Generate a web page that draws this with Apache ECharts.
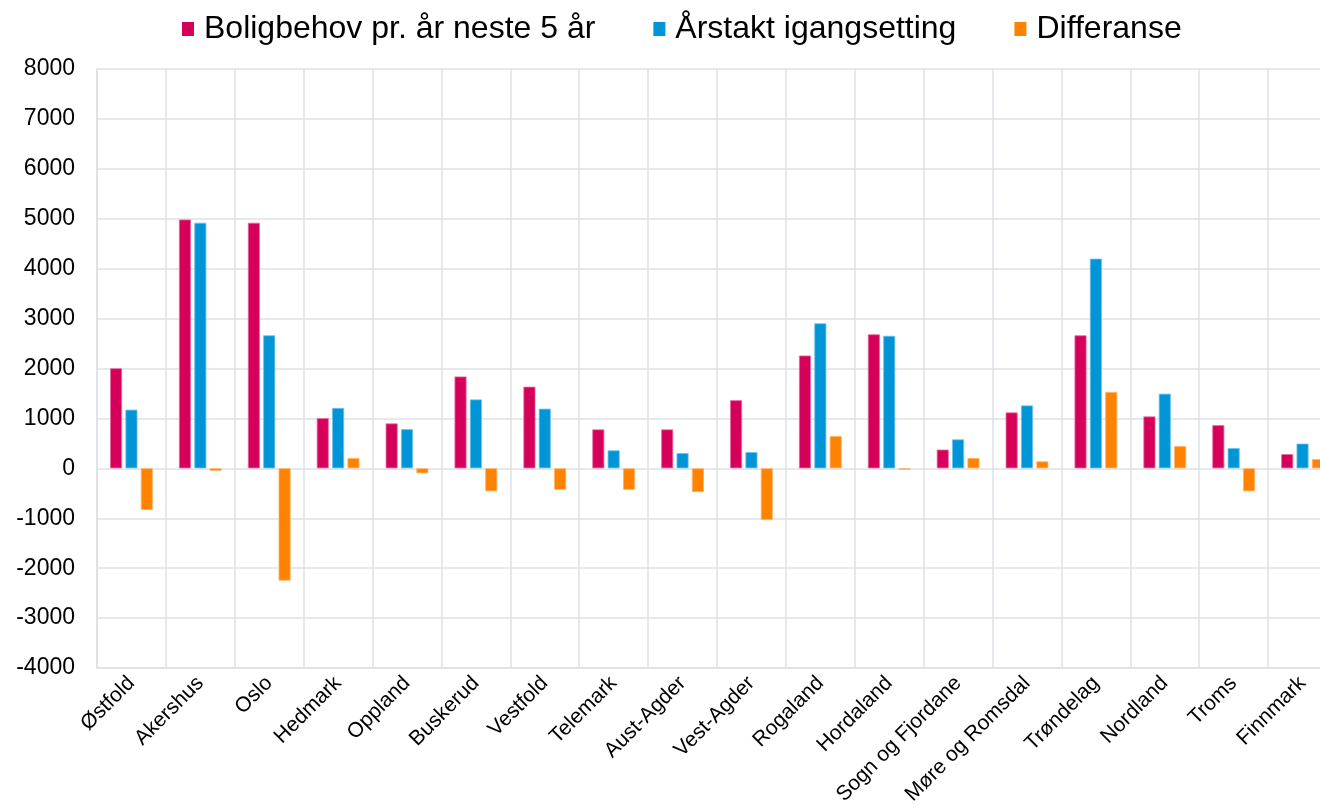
<!DOCTYPE html>
<html>
<head>
<meta charset="utf-8">
<script src="https://cdn.jsdelivr.net/npm/echarts@6/dist/echarts.min.js"></script>
<style>
html,body{margin:0;padding:0;background:#fff;overflow:hidden;width:1320px;height:812px;}
#chart{width:1340px;height:812px;}
</style>
</head>
<body>
<div id="chart"></div>
<script>
const categories = ["Østfold","Akershus","Oslo","Hedmark","Oppland","Buskerud","Vestfold","Telemark","Aust-Agder","Vest-Agder","Rogaland","Hordaland","Sogn og Fjordane","Møre og Romsdal","Trøndelag","Nordland","Troms","Finnmark"];
const boligbehov = [2005,4985,4920,1005,900,1840,1635,780,780,1365,2260,2685,375,1120,2665,1040,865,285];
const igangsetting = [1175,4920,2665,1210,785,1380,1195,360,305,325,2905,2655,580,1260,4200,1495,405,495];
const differanse = [-835,-50,-2250,205,-100,-460,-430,-430,-475,-1035,645,-30,205,140,1530,445,-460,185];
const yTicks = {min:-4000, max:8000, interval:1000};
const seriesNames = ["Boligbehov pr. år neste 5 år","Årstakt igangsetting","Differanse"];
const colors = ["#D6005A","#0095D6","#FF8300"];
const borders = ["#E86A9C","#6CC2EA","#FFB266"];

const chart = echarts.init(document.getElementById('chart'));
const font = "'Liberation Sans', Arial, sans-serif";
const gridColor = "#DDE1E6";
const mk = (name, data, i) => ({
  name: name,
  type: 'bar',
  data: data,
  barWidth: 12,
  barGap: '28%',
  itemStyle: {color: colors[i], borderColor: borders[i], borderWidth: 0.8},
  emphasis: {disabled: true}
});
chart.setOption({
  animation: false,
  color: colors,
  textStyle: {fontFamily: font, color: '#000'},
  legend: {
    top: 8,
    left: 177,
    icon: 'rect',
    itemWidth: 12,
    itemHeight: 14,
    itemGap: 58,
    itemStyle: {borderWidth: 0},
    textStyle: {fontFamily: font, fontSize: 32, color: '#000', padding: [0,0,0,5]},
    data: seriesNames
  },
  grid: {left: 97, right: 3, top: 69, bottom: 144, containLabel: false},
  xAxis: {
    type: 'category',
    data: categories,
    position: 'bottom',
    axisLine: {show: true, onZero: false, lineStyle: {color: gridColor, width: 1.5}},
    axisTick: {show: false},
    splitLine: {show: true, interval: 0, lineStyle: {color: gridColor, width: 1.5}},
    axisLabel: {interval: 0, rotate: 45, fontSize: 21, color: '#000', fontFamily: font, margin: 12}
  },
  yAxis: {
    type: 'value',
    min: yTicks.min, max: yTicks.max, interval: yTicks.interval,
    axisLine: {show: true, lineStyle: {color: gridColor, width: 1.5}},
    axisTick: {show: false},
    splitLine: {show: true, lineStyle: {color: gridColor, width: 1.5}},
    axisLabel: {fontSize: 23, color: '#000', fontFamily: font, margin: 22, formatter: v => String(v)}
  },
  series: [
    mk(seriesNames[0], boligbehov, 0),
    mk(seriesNames[1], igangsetting, 1),
    mk(seriesNames[2], differanse, 2)
  ]
});
</script>
</body>
</html>
